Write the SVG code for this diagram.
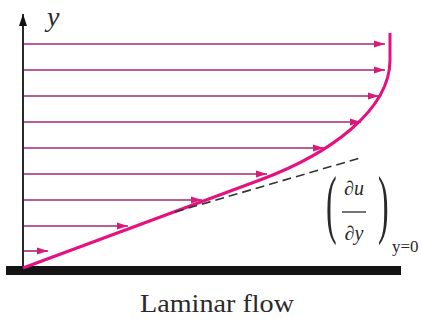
<svg xmlns="http://www.w3.org/2000/svg" width="422" height="324" viewBox="0 0 422 324">
<style>
.vel{stroke:#a3286f;stroke-width:1.6;fill:none;marker-end:url(#ah)}
</style>
<defs>
<marker id="ah" markerUnits="userSpaceOnUse" markerWidth="12" markerHeight="8" refX="11" refY="4" orient="auto">
<path d="M0,0.5 L11,4 L0,7.5 Z" fill="#d81b7a"/>
</marker>
<marker id="axh" markerUnits="userSpaceOnUse" markerWidth="10" markerHeight="14" refX="12" refY="4" orient="auto">
<path d="M0,0 L12,4 L0,8 Z" fill="#111"/>
</marker>
</defs>
<rect width="422" height="324" fill="#fff"/>
<g id="wall"><rect x="6" y="266" width="395" height="9" fill="#141414"/></g>
<g id="axis">
<line x1="23" y1="268" x2="23" y2="14" stroke="#111" stroke-width="1.8" marker-end="url(#axh)"/>
<text x="47" y="26" font-family="'Liberation Serif', serif" font-size="28" font-style="italic" fill="#2a2a2a">y</text>
</g>
<g id="connectors">
<line class="vel" x1="24" y1="44" x2="385" y2="44"/>
<line class="vel" x1="24" y1="70" x2="385" y2="70"/>
<line class="vel" x1="24" y1="96" x2="379" y2="96"/>
<line class="vel" x1="24" y1="122" x2="361" y2="122"/>
<line class="vel" x1="24" y1="148" x2="324" y2="148"/>
<line class="vel" x1="24" y1="174" x2="267" y2="174"/>
<line class="vel" x1="24" y1="200" x2="202" y2="200"/>
<line class="vel" x1="24" y1="226" x2="128" y2="226"/>
<line class="vel" x1="24" y1="251" x2="48" y2="251"/>
</g>
<g id="profile">
<path d="M23,268 L260,180 C330,154 390,110 390,60 L390,33" fill="none" stroke="#e4117f" stroke-width="3"/>
</g>
<g id="tangent">
<line x1="175" y1="212" x2="360" y2="158" stroke="#333" stroke-width="1.6" stroke-dasharray="9 5"/>
</g>
<g id="derivative">
<text transform="translate(326,229) scale(1,2.37)" font-family="'Liberation Serif', serif" font-size="32" fill="#2a2a2a">(</text>
<text transform="translate(378,229) scale(1,2.37)" font-family="'Liberation Serif', serif" font-size="32" fill="#2a2a2a">)</text>
<text x="354" y="195" font-family="'Liberation Serif', serif" font-size="20" fill="#2a2a2a" text-anchor="middle">∂<tspan font-style="italic">u</tspan></text>
<line x1="342" y1="212" x2="366" y2="212" stroke="#2a2a2a" stroke-width="1.3"/>
<text x="354" y="240" font-family="'Liberation Serif', serif" font-size="20" fill="#2a2a2a" text-anchor="middle">∂<tspan font-style="italic">y</tspan></text>
<text x="392" y="252" font-family="'Liberation Serif', serif" font-size="17" fill="#2a2a2a">y=0</text>
</g>
<g id="caption">
<text x="217" y="312" font-family="'Liberation Serif', serif" font-size="25" fill="#2a2a2a" text-anchor="middle" textLength="154" lengthAdjust="spacingAndGlyphs">Laminar flow</text>
</g>
</svg>
